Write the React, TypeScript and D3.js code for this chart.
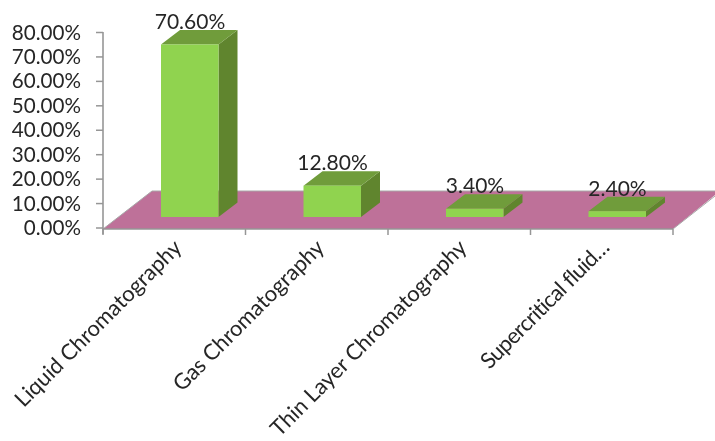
import React from "react";
import * as d3 from "d3";

const categories = ["Liquid Chromatography", "Gas Chromatography", "Thin Layer Chromatography", "Supercritical fluid…"];
const values = [70.6, 12.8, 3.4, 2.4];
const valueLabels = ["70.60%", "12.80%", "3.40%", "2.40%"];
const yTicks = [0, 10, 20, 30, 40, 50, 60, 70, 80];

const FONT = "Lato, Carlito, 'Open Sans', sans-serif";
const AXIS = "#969696";
const TEXT = "#262626";

export default function App() {
  const y = d3.scaleLinear().domain([0, 80]).range([228, 32.5]);
  const x = d3.scaleBand<string>().domain(categories).range([103, 673]);
  const barW = 57.5;
  const depthX = 19;
  const depthY = 14.5;
  const barOffset = 58;
  const barBottom = 217;
  const h = (v: number) => y(0) - y(v);
  const poly = (pts: [number, number][]) => pts.map((p) => p.join(",")).join(" ");
  const bands = categories.map((c) => x(c) as number);
  const ticksX = [...bands, 673];

  return (
    <svg
      width={715}
      height={441}
      viewBox="0 0 715 441"
      style={{ position: "absolute", left: 0, top: 0, fontFamily: FONT }}
    >
      <defs>
        <filter id="soft" x="-5%" y="-5%" width="110%" height="110%">
          <feGaussianBlur stdDeviation="0.35" />
        </filter>
      </defs>
      <g filter="url(#soft)">
        <polygon points={poly([[103, 229], [152, 191], [720, 191], [673, 229]])} fill="#BE7199" />
        <polyline points="103,229 152,191 720,191" fill="none" stroke="#A8A8A8" strokeWidth={1} />
        <line x1={103} x2={673} y1={229} y2={229} stroke={AXIS} strokeWidth={1.6} />
        <line x1={673} x2={715} y1={229} y2={196} stroke="#A8A8A8" strokeWidth={1} />

        <line x1={103} x2={103} y1={32} y2={234} stroke={AXIS} strokeWidth={1.6} />
        {yTicks.map((t) => (
          <g key={t}>
            <line x1={96} x2={103} y1={y(t)} y2={y(t)} stroke={AXIS} strokeWidth={1.5} />
            <text x={81} y={y(t) + 7} textAnchor="end" fontSize={20.6} fill={TEXT}>
              {t.toFixed(2)}%
            </text>
          </g>
        ))}
        {ticksX.map((t) => (
          <line key={t} x1={t} x2={t} y1={229} y2={235} stroke={AXIS} strokeWidth={1.5} />
        ))}

        {categories.map((c, i) => {
          const left = bands[i] + barOffset;
          const right = left + barW;
          const top = barBottom - h(values[i]);
          const truncated = c.endsWith("…");
          return (
            <g key={c}>
              <polygon
                points={poly([[right, barBottom], [right + depthX, barBottom - depthY], [right + depthX, top - depthY], [right, top]])}
                fill="#60852F"
              />
              <polygon
                points={poly([[left, top], [left + depthX, top - depthY], [right + depthX, top - depthY], [right, top]])}
                fill="#6F9C3A"
              />
              <rect x={left} y={top} width={barW} height={h(values[i])} fill="#90D34F" />
              <text x={left + 29} y={top - depthY - 1} textAnchor="middle" fontSize={21} fill={TEXT}>
                {valueLabels[i]}
              </text>
              <text
                transform={`translate(${bands[i] + 80},${249}) rotate(-45)`}
                textAnchor="end"
                fontSize={21.9}
                letterSpacing={truncated ? -0.6 : 0}
                fill={TEXT}
              >
                {c}
              </text>
            </g>
          );
        })}
      </g>
    </svg>
  );
}
